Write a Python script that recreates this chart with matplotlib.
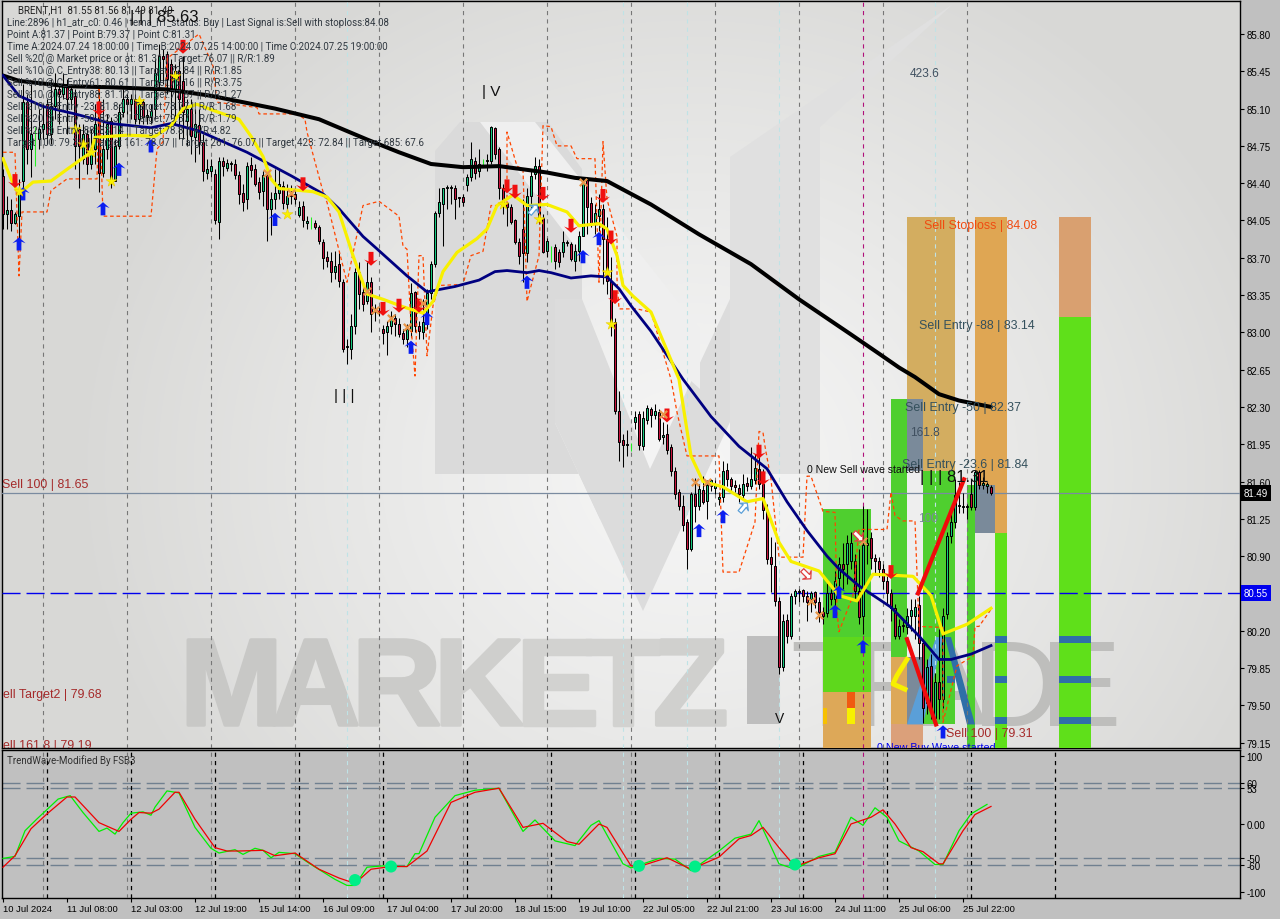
import numpy as np
import matplotlib
matplotlib.use("Agg")
import matplotlib.pyplot as plt
import matplotlib.patheffects as pe
from matplotlib.patches import Polygon, Rectangle
from matplotlib.path import Path
from matplotlib.transforms import Affine2D, blended_transform_factory
from matplotlib import font_manager as fm

plt.rcParams['lines.scale_dashes'] = False
names = {f.name for f in fm.fontManager.ttflist}
NARROW = 'Liberation Sans Narrow' if 'Liberation Sans Narrow' in names else 'Roboto'
SANS = 'Liberation Sans'

opens = [84.47,84.11,84.15,84.03,84.09,84.42,85.16,84.72,84.81,84.81,
84.91,85.14,84.86,85.12,85.28,85.24,85.33,85.19,85.22,84.91,
84.63,84.86,84.58,84.72,85.07,84.50,84.72,84.98,84.42,84.75,
85.07,85.19,85.14,85.19,85.00,85.16,85.02,85.02,85.10,85.35,
85.59,85.61,85.52,85.28,85.45,85.36,84.98,85.10,84.83,84.95,
84.79,84.50,84.51,84.49,84.04,84.61,84.54,84.58,84.58,84.48,
84.31,84.25,84.57,84.53,84.41,84.33,84.48,84.16,84.25,84.31,
84.37,84.20,84.32,84.30,84.10,84.19,84.03,84.03,84.03,83.99,
83.85,83.71,83.67,83.57,83.64,83.47,82.86,82.84,83.06,83.57,
83.38,83.29,83.47,83.19,83.19,83.03,83.00,83.06,83.13,83.08,
82.99,82.94,83.01,83.38,83.06,83.00,83.15,83.37,83.64,84.12,
84.20,84.35,84.35,84.35,84.26,84.27,84.38,84.46,84.61,84.51,
84.60,84.61,84.61,84.92,84.72,84.35,84.21,84.18,84.05,83.85,
83.97,83.74,84.28,84.49,84.56,84.07,83.76,83.81,83.80,83.75,
83.75,83.84,83.83,83.67,83.76,83.90,84.44,84.21,84.02,84.09,
84.16,83.88,83.48,83.10,82.26,81.99,81.94,81.93,82.16,82.23,
81.93,82.18,82.28,82.22,82.25,82.02,82.05,81.92,81.70,81.50,
81.37,81.22,80.97,81.48,81.37,81.52,81.42,81.56,81.54,81.44,
81.45,81.71,81.62,81.57,81.54,81.47,81.59,81.56,81.61,81.72,
81.58,81.33,80.89,80.81,80.48,79.86,80.30,80.15,80.53,80.56,
80.58,80.53,80.50,80.56,80.47,80.38,80.37,80.55,80.50,80.69,
80.83,80.83,80.85,80.85,80.57,80.34,81.00,81.07,80.88,80.85,
80.78,80.67,80.55,80.41,80.15,80.24,80.23,80.34,80.34,80.44,
80.08,79.52,79.87,79.38,79.72,79.56,80.36,81.09,81.22,81.37,
81.36,81.36,81.48,81.36,81.69,81.57,81.56,81.55]
closes = [84.11,84.15,84.03,84.11,84.32,85.16,84.72,84.86,84.81,84.91,
84.96,84.86,85.12,85.28,85.24,85.33,85.19,85.28,84.75,84.75,
84.86,84.58,84.72,84.96,84.50,84.72,84.96,84.42,84.75,85.07,
85.19,85.14,85.19,85.00,85.14,85.02,85.04,85.08,85.43,85.59,
85.57,85.38,85.28,85.45,85.19,85.07,85.10,84.84,84.96,84.79,
84.51,84.53,84.56,84.05,84.61,84.56,84.59,84.58,84.48,84.30,
84.22,84.56,84.52,84.39,84.32,84.48,84.16,84.25,84.31,84.39,
84.21,84.28,84.28,84.25,84.18,84.05,84.03,84.03,83.99,83.86,
83.70,83.67,83.57,83.62,83.48,82.84,82.86,83.06,83.57,83.36,
83.27,83.47,83.17,83.19,83.19,82.99,83.06,83.15,83.08,82.98,
82.94,83.03,83.37,83.06,83.01,83.10,83.37,83.64,84.12,84.22,
84.35,84.35,84.35,84.25,84.26,84.22,84.46,84.63,84.50,84.58,
84.60,84.61,84.93,84.67,84.35,84.20,84.18,84.04,83.85,83.72,
83.74,84.28,84.47,84.56,84.06,83.75,83.86,83.81,83.67,83.66,
83.85,83.84,83.69,83.76,83.90,84.40,84.18,84.02,84.12,84.16,
83.88,83.48,83.10,82.26,81.97,81.94,81.94,81.93,82.21,81.94,
82.20,82.29,82.22,82.26,82.00,82.04,81.90,81.70,81.48,81.37,
81.19,80.97,81.48,81.37,81.53,81.41,81.57,81.61,81.57,81.44,
81.70,81.62,81.56,81.55,81.48,81.58,81.56,81.62,81.73,81.58,
81.33,80.87,80.83,80.48,79.86,80.29,80.15,80.53,80.57,80.56,
80.53,80.47,80.55,80.47,80.38,80.34,80.55,80.50,80.67,80.83,
80.78,81.02,81.02,80.57,80.33,81.00,81.02,80.88,80.85,80.78,
80.67,80.55,80.41,80.15,80.24,80.24,80.34,80.39,80.42,80.08,
79.47,79.86,79.47,79.72,79.56,80.34,81.09,81.22,81.47,81.37,
81.36,81.36,81.36,81.69,81.57,81.57,81.56,81.49]
highs = [84.53,84.28,84.25,84.13,84.44,85.33,85.24,85.33,84.93,85.10,
85.14,85.19,85.38,85.43,85.33,85.43,85.38,85.33,85.28,84.96,
84.96,84.91,84.91,85.14,85.31,85.19,85.05,85.02,84.81,85.14,
85.28,85.24,85.24,85.24,85.19,85.19,85.10,85.14,85.57,85.71,
85.66,85.64,85.57,85.52,85.57,85.59,85.19,85.19,85.10,85.10,
84.86,84.63,84.63,84.53,84.65,84.65,84.63,84.61,84.63,84.51,
84.39,84.60,84.65,84.58,84.46,84.51,84.51,84.32,84.53,84.53,
84.42,84.39,84.38,84.35,84.23,84.23,84.09,84.08,84.05,84.01,
83.88,83.76,83.75,83.76,83.76,83.50,82.94,83.17,83.60,83.66,
83.43,83.66,83.52,83.27,83.24,83.07,83.11,83.20,83.17,83.13,
83.03,83.08,83.46,83.39,83.11,83.31,83.41,83.67,84.14,84.35,
84.35,84.38,84.38,84.38,84.27,84.30,84.49,84.79,84.65,84.72,
84.63,84.67,84.94,84.93,84.74,84.39,84.22,84.20,84.06,83.89,
84.25,84.35,84.53,84.65,84.63,84.11,83.89,83.81,83.83,83.78,
83.95,83.87,83.85,83.83,83.95,84.44,84.46,84.27,84.20,84.30,
84.20,84.08,83.71,83.13,82.45,82.05,82.08,81.96,82.26,82.26,
82.26,82.32,82.30,82.33,82.28,82.16,82.14,81.95,81.74,81.53,
81.47,81.25,81.50,81.63,81.58,81.65,81.61,81.62,81.61,81.50,
81.79,81.77,81.64,81.61,81.58,81.67,81.64,81.92,81.86,81.91,
81.72,81.39,81.08,81.03,80.52,80.36,80.36,80.55,80.59,80.59,
80.59,80.57,80.57,80.57,80.52,80.42,80.65,80.59,80.76,80.89,
81.02,81.10,81.13,80.92,80.97,81.37,81.34,81.13,80.92,80.89,
80.83,80.71,80.59,80.45,80.31,80.31,80.41,80.50,80.50,80.53,
80.12,79.93,79.98,79.80,80.22,80.41,81.13,81.34,81.62,81.60,
81.49,81.39,81.62,81.71,81.71,81.64,81.60,81.57]
lows = [83.97,83.97,83.95,84.02,83.83,84.25,84.58,84.46,84.56,84.72,
84.81,84.77,84.77,85.00,84.96,85.19,84.86,85.10,84.53,84.35,
84.58,84.49,84.53,84.58,84.32,84.46,84.63,84.35,84.42,84.72,
85.02,85.05,85.00,84.96,84.96,84.96,84.96,84.96,85.00,85.28,
85.33,85.24,85.00,84.96,84.81,84.81,84.75,84.67,84.60,84.67,
84.42,84.44,84.46,84.02,83.88,84.47,84.51,84.51,84.44,84.20,
84.14,84.16,84.46,84.37,84.25,84.19,83.86,83.91,84.16,84.25,
84.16,84.13,84.20,84.20,84.08,83.99,83.97,83.97,83.97,83.83,
83.59,83.61,83.47,83.50,83.43,82.82,82.70,82.75,82.98,83.22,
83.20,83.27,83.00,83.11,83.15,82.89,82.79,82.98,82.97,82.96,
82.89,82.86,82.96,83.00,82.94,82.94,83.03,83.31,83.61,84.08,
83.81,84.16,84.20,84.06,84.18,84.19,84.33,84.42,84.44,84.46,
84.55,84.51,84.58,84.63,84.25,84.11,84.00,84.02,83.83,83.64,
83.47,83.66,84.16,84.44,84.02,83.74,83.71,83.66,83.59,83.61,
83.71,83.81,83.67,83.58,83.67,83.90,83.92,83.99,83.92,83.95,
83.45,83.36,82.97,82.23,81.79,81.74,81.84,81.89,82.09,81.90,
81.90,82.14,82.11,82.19,81.98,81.95,81.86,81.65,81.44,81.33,
81.14,80.78,80.95,81.22,81.33,81.39,81.25,81.51,81.48,81.38,
81.41,81.56,81.51,81.50,81.41,81.44,81.51,81.53,81.58,81.53,
81.25,80.83,80.56,80.43,79.79,79.82,80.08,80.12,80.45,80.47,
80.47,80.29,80.38,80.41,80.28,80.26,80.33,80.44,80.42,80.59,
80.59,80.64,80.78,80.50,80.26,80.17,80.83,80.78,80.73,80.70,
80.59,80.45,80.29,80.12,80.12,80.19,80.17,80.20,80.12,79.93,
79.33,79.42,79.37,79.33,79.37,79.47,80.31,81.02,81.16,81.30,
81.30,81.25,81.33,81.33,81.53,81.53,81.49,81.47]
lime_bars = [8, 77, 120, 137, 157]

ma_x = [0,4,16,27,41,52,68,79,91,99,107,115,124,136,143,151,157,162,174,187,199,212,219,224,228,234,239,247]
ma_y = [85.41,85.36,85.31,85.30,85.28,85.22,85.10,85.00,84.81,84.69,84.58,84.55,84.56,84.50,84.45,84.42,84.30,84.20,83.92,83.64,83.31,82.98,82.80,82.67,82.58,82.42,82.36,82.30]
navy_x = [0,4,10,18,27,37,42,49,61,72,80,84,90,93,101,106,113,119,123,126,131,134,137,142,147,151,154,157,162,170,177,184,191,196,201,206,209,214,222,229,234,237,242,247]
navy_y = [85.41,85.22,85.12,85.05,84.96,84.92,84.96,84.89,84.69,84.47,84.30,84.16,83.90,83.80,83.53,83.38,83.43,83.49,83.57,83.58,83.56,83.58,83.56,83.51,83.53,83.52,83.41,83.25,83.01,82.56,82.21,81.93,81.72,81.41,81.14,80.90,80.78,80.62,80.42,80.15,79.93,79.93,79.98,80.06]
yel_x = [0,2,4,7.5,12,16,22,23,31,38,42,45,48.5,53.5,59,62,65,67,69,77.5,81,84,87.5,91,95,100,105,107.5,110,113.5,118.5,121,123.5,127.5,131,136,141,144,149,151,153.5,155,157.5,162,169,172,175,180,186,190,194,197,204,209,213.5,217.5,227.5,232,235,241,247]
yel_y = [84.63,84.44,84.30,84.41,84.42,84.53,84.69,84.83,84.85,84.84,84.94,85.10,85.14,85.07,85.00,84.84,84.65,84.44,84.35,84.32,84.27,84.13,83.72,83.36,83.31,83.24,83.18,83.29,83.57,83.75,83.88,83.97,84.19,84.29,84.19,84.20,84.13,84.00,84.02,83.97,83.72,83.44,83.34,83.19,82.56,81.84,81.60,81.55,81.41,81.44,81.03,80.85,80.76,80.53,80.48,80.73,80.71,80.53,80.17,80.26,80.41]
org_x = [0,3,4,4.75,11,12,16,23.5,24,25,37,38.5,40,41,49,52.5,53.5,63.5,64,73.5,75.5,76,80,81,86,90,94,99,100,101,102,103,104,105,106,107.5,109,115,117,120,122,126,126,128.5,130,131,134,135,137,138.5,142,143.5,148,149,150,151,153.5,153.5,154,158.5,162,167,168.5,171,179,180,184,188,189,190,190.5,192,194,200,201,202,205,208,208.5,209,212.5,214,221,222,223,225,228,229,235,235,238.5,242.5,243,244,247]
org_y = [84.69,84.69,83.53,84.13,84.13,84.33,84.44,84.44,85.30,84.09,84.09,84.72,84.79,85.57,85.80,85.50,85.16,85.11,85.05,85.05,85.00,84.88,84.32,84.22,83.47,84.19,84.23,84.09,83.81,83.78,83.06,82.59,83.72,83.72,82.78,83.25,83.44,83.45,83.72,83.76,84.19,84.19,84.88,84.56,84.53,83.29,83.72,84.94,84.93,84.75,84.75,84.63,84.63,83.47,84.79,84.25,83.90,83.50,83.22,83.22,83.19,82.56,82.25,81.84,81.84,80.75,80.75,81.22,82.07,82.06,81.93,81.62,80.89,80.89,81.65,81.65,81.32,81.31,80.38,80.19,80.53,81.15,81.15,81.50,81.28,81.23,81.23,80.24,80.23,79.34,79.87,79.96,80.24,80.24,80.40]

up_x = [4,5,25,29,37,68,102,106,131,145,149,174,180,208,215,235,209]
up_y = [83.83,84.30,84.16,84.53,84.75,84.06,82.86,83.13,83.47,83.71,83.88,81.14,81.27,80.38,80.05,79.25,80.56]
dn_x = [3,24,45,75,92,95,99,104,126,128,135,142,150,152,153,166,189,190,222]
dn_y = [84.42,85.10,85.68,84.39,83.69,83.22,83.25,83.25,84.37,84.32,84.30,84.00,84.28,83.89,83.33,82.22,81.88,81.63,80.75]
star_x = [4,18,20,22,27,34,43,71,125,134,151,152]
star_y = [84.33,84.91,84.77,84.69,84.42,85.17,85.41,84.11,84.20,84.06,83.57,83.08]
cross_x = [66,72,145,91,93,97,101,105,165,173,176,202,204,215]
cross_y = [84.50,84.31,84.41,83.39,83.21,83.13,83.05,83.28,82.23,81.60,81.60,80.48,80.35,81.04]

price_ticks = [85.80,85.45,85.10,84.75,84.40,84.05,83.70,83.35,83.00,82.65,82.30,81.95,81.60,81.25,80.90,80.55,80.20,79.85,79.50,79.15]
time_ticks = ['10 Jul 2024','11 Jul 08:00','12 Jul 03:00','12 Jul 19:00','15 Jul 14:00','16 Jul 09:00','17 Jul 04:00','17 Jul 20:00','18 Jul 15:00','19 Jul 10:00','22 Jul 05:00','22 Jul 21:00','23 Jul 16:00','24 Jul 11:00','25 Jul 06:00','25 Jul 22:00']

green_x = [0,3,5.5,8.4,13.8,16.8,20,24,26,28,30,32,35,37,38,41,44,48,52,54,58,60,63,65,67,69,73,77,83,86,88,91,95,101,103,104,108,113,118,124,130,133,138,143,147,149,155,157,164,168,172,179,183,187,189,194,198,204,208,212,215,218,221,224,229,233,235,239,242,246]
green_v = [-51,-48,-10,7,37,42,17,-11,-6,-15,2,16,18,13,25,49,46,-5,-36,-43,-38,-45,-36,-39,-50,-42,-44,-60,-82,-91,-91,-64,-62,-63,-44,-44,10,42,50,53,-11,6,-25,-32,-2,5,-59,-65,-51,-52,-69,-40,-21,-15,5,-59,-67,-48,-42,10,-2,24,10,-25,-40,-60,-60,-10,15,29]
red_x = [0,3,7,11,16,18,24,29,32,34,37,39,43,44,48,53,56,59,65,68,73,79,84,88,92,97,101,106,112,118,124,130,135,141,144,149,151,157,159,166,172,179,184,187,190,194,198,204,208,212,217,220,223,227,230,234,235,240,243,247]
red_v = [-64,-47,-7,15,40,40,2,-11,7,17,16,22,47,47,7,-35,-40,-40,-39,-47,-43,-67,-80,-88,-67,-63,-63,-40,32,47,53,-5,1,-26,-30,0,-5,-62,-63,-50,-67,-49,-22,-17,-5,-35,-63,-50,-44,0,10,21,0,-35,-41,-59,-59,-10,14,26]
dot_x = [88,97,159,173,198]
dot_v = [-83,-63,-62,-63,-60]
sub_levels = [60,53,-50,-60]

W, H = 1280, 920
L, R, T1, B1, T2, B2 = 2, 1240, 2, 749, 751, 899
fig = plt.figure(figsize=(12.8, 9.2), dpi=100, facecolor='#C0C0C0')
def axpos(t, b):
    return [L/W, 1-b/H, (R-L)/W, (b-t)/H]
ax = fig.add_axes(axpos(T1, B1))
sub = fig.add_axes(axpos(T2, B2), facecolor='#C0C0C0')
xlim = ((L-3)/4, (R-3)/4)
p_of = lambda y: 85.80-(y-35)/106.55
for a in (ax, sub):
    a.set_xlim(*xlim)
    for s in a.spines.values():
        s.set_color('black'); s.set_linewidth(1.0)
ax.set_ylim(p_of(B1), p_of(T1))
sub.set_ylim(-109.6, 109.6)
px = Affine2D().scale(1, -1).translate(0, H)

# gradient background
yy, xx = np.mgrid[T1:B1, L:R]
d = np.minimum(1, np.hypot((xx-690)/620, (yy-470)/560))
shade = 246-30*d**1.2
img = np.dstack([shade, shade, shade-2*d])/255
ax.imshow(img, extent=[*xlim, p_of(B1), p_of(T1)], aspect='auto', zorder=0, interpolation='bilinear')

# logo
for pts, col in [
    ([(435,475),(435,152),(460,123),(548,123),(582,170),(582,300),(555,300),(555,424),(600,520),(600,475)], '#DADADA'),
    ([(555,300),(582,300),(650,470),(730,300),(730,423),(643,612),(555,424)], '#DCDCDC'),
    ([(730,475),(820,475),(820,128),(953,5),(730,158)], '#E0E0E0'),
    ([(480,123),(535,123),(700,330),(700,390),(650,345)], '#EFEFEF'),
]:
    ax.add_patch(Polygon(pts, closed=True, fc=col, ec='none', transform=px, zorder=1))

# watermark
for ch, x, col in [('M',180,'#C8C8C6'),('A',271,'#C8C8C6'),('R',352,'#CBCBC9'),('K',434,'#CFCFCD'),('E',516,'#D2D2D0'),('T',585,'#D2D2D0'),('Z',653,'#D0D0CE')]:
    ax.text(x, 726, ch, transform=px, family=SANS, weight='bold', fontsize=89, color=col, va='baseline', ha='left', zorder=2,
            path_effects=[pe.withStroke(linewidth=2.5, foreground=col)])
ax.add_patch(Rectangle((747,637), 33, 88, fc='#BEBEBE', ec='none', transform=px, zorder=2))
for ch, x in [('T',790),('R',853),('A',905),('D',972),('E',1040)]:
    ax.text(x, 726, ch, transform=px, family=SANS, fontsize=88, color='#BEBEBC', va='baseline', ha='left', zorder=2)

# coloured zones: bar0, bar1, price0, price1, colour
zone_x0 = [226,243,226,243,222,230,205,241,248,264,205,264,205,222,222,226,226]
zone_x1 = [238,251,230,248,226,238,217,243,251,272,217,272,217,226,230,230,230]
zone_p0 = [81.70,81.12,81.70,81.12,79.95,79.32,80.14,79.10,79.10,79.10,79.62,83.14,79.10,79.32,79.10,79.32,79.95]
zone_p1 = [84.08,84.08,82.37,81.57,82.37,81.70,81.34,81.57,81.12,83.14,80.14,84.08,79.62,79.95,79.32,79.95,81.70]
zone_c = ['#D3AD60','#DFA653','#7A8A9A','#7A8A9A','#4FCF2F','#4FCF2F','#4FCF2F','#4FCF2F','#5FE01A','#5FE01A','#5ED81C','#D9A070','#DDA858','#DDA858','#DBA07A','#7A8A9A','#EEEEEE']
for a0, a1, b0, b1, c in zip(zone_x0, zone_x1, zone_p0, zone_p1, zone_c):
    ax.add_patch(Rectangle((a0, b0), a1-a0, b1-b0, fc=c, ec='none', zorder=3))
for a0, a1, b0, b1, c in [(211,213,79.47,79.62,'#F05A10'),(211,213,79.32,79.47,'#F7F000'),(205,206,79.32,79.47,'#F7C000')]:
    ax.add_patch(Rectangle((a0, b0), a1-a0, b1-b0, fc=c, ec='none', zorder=3.1))
band_bottom = [80.08,79.71,79.32]
for b in band_bottom:
    for a0, a1 in [(248,251),(264,272),(236,238)]:
        if a0 == 236 and b != 79.71:
            continue
        ax.add_patch(Rectangle((a0, b), a1-a0, 0.066, fc='#2F6FA8', ec='none', zorder=3.2))
ax.add_patch(Polygon([(235.5,80.14),(237,80.14),(243,79.32),(241,79.32)], fc='#2F6FA8', ec='none', zorder=3.2))
ax.add_patch(Polygon([(226,79.32),(230,79.32),(235,80.14),(233.25,80.14)], fc='#5A9FD8', ec='none', zorder=3.2))
ax.plot([226,223.5,222.5,225.5],[79.93,79.78,79.70,79.65], color='#F7F000', lw=3.5, zorder=3.3)

# vertical lines
grey_bars = [10,31,52,73,94,115,136,157,178,199,220,241]
black_bars = [11,32,53,74,95,116,137,158,179,200,221,242,263]
pale_bars = [86,155,171,194,233]
magenta_bars = [215]
dash = (0,(3,3))
for a in (ax, sub):
    a.vlines(grey_bars, 0, 1, transform=a.get_xaxis_transform(), color='#777777', lw=0.8, linestyles=[dash], zorder=4)
    a.vlines(pale_bars, 0, 1, transform=a.get_xaxis_transform(), color='#BFE3E6', lw=0.8, linestyles=[dash], zorder=4)
    a.vlines(magenta_bars, 0, 1, transform=a.get_xaxis_transform(), color='#B0107A', lw=0.8, linestyles=[dash], zorder=4)
sub.vlines(black_bars, 0, 1, transform=sub.get_xaxis_transform(), color='black', lw=0.9, linestyles=[dash], zorder=4)

# horizontal lines
ax.axhline(81.49, color='#7A8BA0', lw=0.9, zorder=4.5)
ax.axhline(80.55, color='#0000EE', lw=1.0, linestyle=(0,(13,4.3)), zorder=4.5)

# candles
n = len(closes)
o, c, h, l = map(np.array, (opens, closes, highs, lows))
idx = np.arange(n)
wick = ['#22EE22' if i in lime_bars else 'black' for i in idx]
ax.vlines(idx, l, h, colors=wick, lw=0.75, zorder=6)
body = [i for i in idx if i not in lime_bars]
colors = ['#13C97E' if c[i] >= o[i] else '#C8123C' for i in body]
lo = np.minimum(o, c)[body]; hi = np.maximum(o, c)[body]
ax.bar(idx[body], np.maximum(hi-lo, 0.012), bottom=lo, width=0.72, color=colors, edgecolor='black', linewidth=0.72, zorder=6.2)

# indicators
ax.plot(org_x, org_y, color='#FF4500', lw=0.9, linestyle=(0,(2.6,2)), zorder=7)
ax.plot(ma_x, ma_y, color='black', lw=2.9, zorder=7.1, solid_capstyle='round', solid_joinstyle='round')
ax.plot(navy_x, navy_y, color='#000080', lw=2.0, zorder=7.2, solid_joinstyle='round')
ax.plot(yel_x, yel_y, color='#F8F000', lw=2.3, zorder=7.3, solid_joinstyle='round')
ax.plot([226,233.25],[80.12,79.32], color='#F00A0A', lw=3, zorder=7.4)
ax.plot([228.75,240.25],[80.55,81.62], color='#F00A0A', lw=3, zorder=7.4)

# signal marks
arrow = Path([(0,1),(1,0.1),(0.36,0.35),(0.36,-1),(-0.36,-1),(-0.36,0.35),(-1,0.1),(0,1)], closed=True)
arrow_dn = arrow.transformed(Affine2D().scale(1,-1))
ax.scatter(up_x, up_y, marker=arrow, s=90, c='#0A1EF0', edgecolors='none', zorder=8)
ax.scatter(dn_x, dn_y, marker=arrow_dn, s=100, c='#F01010', edgecolors='none', zorder=8)
ax.scatter(star_x, star_y, marker='*', s=70, c='#F8F000', edgecolors='#E8C000', linewidths=0.3, zorder=8)
ax.scatter(cross_x, cross_y, marker='x', s=28, c='#E8964A', linewidths=1.6, zorder=8)
ax.scatter([185,132.5], [81.36,84.16], marker=arrow.transformed(Affine2D().rotate_deg(-40)), s=70, c='white', edgecolors='#5A9FD8', linewidths=0.9, zorder=8)
ax.scatter([200.75,213.75], [80.73,81.09], marker=arrow.transformed(Affine2D().rotate_deg(-135)), s=70, c='white', edgecolors='#E04040', linewidths=0.9, zorder=8)

# oscillator
for lv in sub_levels:
    sub.axhline(lv, color='#708090', lw=1.0, linestyle=(0,(13,4.3)), zorder=2)
sub.plot(green_x, green_v, color='#00F000', lw=0.9, zorder=5)
sub.plot(red_x, red_v, color='#F00000', lw=0.9, zorder=5.1)
sub.scatter(dot_x, dot_v, s=75, c='#00EE88', edgecolors='none', zorder=6)
sub.text(7, 761, 'TrendWave-Modified By FSB3', transform=px, family=NARROW, fontsize=7, color='#303030', va='center')

# axes
FS = 7.0
ax.set_xticks([])
ax.yaxis.tick_right()
ax.set_yticks(price_ticks, ['' if v == 80.55 else f'{v:.2f}' for v in price_ticks], family=SANS, fontsize=FS)
ax.tick_params(axis='y', length=3, width=0.8, pad=1.5, color='black')
sub.yaxis.tick_right()
sub.set_yticks([100,60,53,0,-50,-60,-100], ['100','60','53','0.00','-50','-60','-100'], family=SANS, fontsize=FS)
sub.tick_params(axis='y', length=3, width=0.8, pad=1.5)
sub.set_xticks(np.arange(len(time_ticks))*16, time_ticks, family=SANS, fontsize=6.8, ha='left')
sub.tick_params(axis='x', length=3, width=0.8, pad=1.5)

blend = blended_transform_factory(ax.transAxes, ax.transData)
for v, bg in [(81.49,'black'),(80.55,'#0000EE')]:
    ax.text(1.0028, v, f'{v:.2f}', transform=blend, family=SANS, fontsize=FS, color='white', va='center', ha='left', zorder=10,
            bbox=dict(boxstyle='square,pad=0.3', fc=bg, ec='none'), clip_on=False)

# header
info_y = [23,35,47,59,71,83,95,107,119,131,143]
info = ['Line:2896 | h1_atr_c0: 0.46 | tema_h1_status: Buy | Last Signal is:Sell with stoploss:84.08',
'Point A:81.37 | Point B:79.37 | Point C:81.31',
'Time A:2024.07.24 18:00:00 | Time B:2024.07.25 14:00:00 | Time C:2024.07.25 19:00:00',
'Sell %20 @ Market price or at: 81.31 || Target:76.07 || R/R:1.89',
'Sell %10 @ C_Entry38: 80.13 || Target:72.84 || R/R:1.85',
'Sell %10 @ C_Entry61: 80.61 || Target:76.16 || R/R:3.75',
'Sell %10 @ C_Entry88: 81.12 || Target:77.87 || R/R:1.27',
'Sell %10 @ Entry -23: 81.84 || Target:78.77 || R/R:1.68',
'Sell %20 @ Entry -50: 82.37 || Target:79.37 || R/R:1.79',
'Sell %20 @ Entry -88: 83.14 || Target:78.8 || R/R:4.82',
'Target 100: 79.31 || Target 161: 78.07 || Target 261: 76.07 || Target 423: 72.84 || Target 685: 67.6']
ax.text(18, 10, 'BRENT,H1  81.55 81.56 81.49 81.49', transform=px, family=NARROW, fontsize=7, color='#202020', va='center', zorder=9)
for y, s in zip(info_y, info):
    ax.text(7, y, s, transform=px, family=NARROW, fontsize=7, color='#303840', va='center', zorder=9)

# chart labels: x, y, text, colour, size
labels = [(130,18,'| | | 85.63','#101010',12),(482,92,'| V','#101010',11),(334,396,'| | |','#101010',11),(775,719,'V','#101010',10),
(920,478,'| | | 81.31','#101010',12),(910,74,'423.6','#405060',8.6),(910,433,'161.8','#405060',8.6),(918,519,'100','#7A8A9A',8.6),
(905,408,'Sell Entry -50 | 82.37','#34505C',8.9),(919,326,'Sell Entry -88 | 83.14','#34505C',8.9),(902,465,'Sell Entry -23.6 | 81.84','#34505C',8.9),
(924,226,'Sell Stoploss | 84.08','#F04A10',8.9),(2,485,'Sell 100 | 81.65','#A52A2A',8.9),(3,695,'ell Target2 | 79.68','#A52A2A',8.9),(3,746,'ell 161.8 | 79.19','#A52A2A',8.9),
(946,734,'Sell 100 | 79.31','#A52A2A',8.9),(807,470,'0 New Sell wave started','#101010',7.6),(877,748,'0 New Buy Wave started','#0000EE',7.75)]
for x, y, s, col, fs in labels:
    ax.text(x, y, s, transform=px, family=SANS, fontsize=fs, color=col, va='center', zorder=9, clip_on=True)

fig.savefig('out.png', dpi=100, facecolor=fig.get_facecolor())
